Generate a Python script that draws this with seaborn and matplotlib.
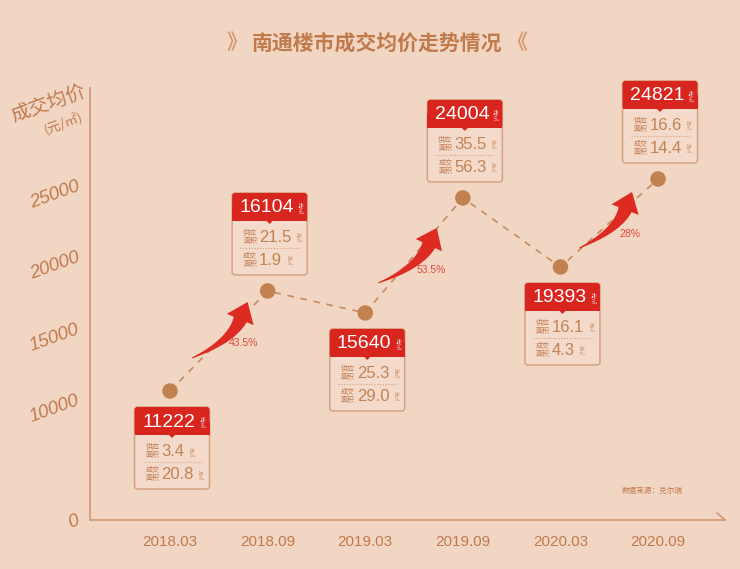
import numpy as np
import pandas as pd
import seaborn as sns
import matplotlib
matplotlib.use("Agg")
import matplotlib.pyplot as plt
from matplotlib.patches import FancyBboxPatch, Polygon, Rectangle

# ---------------- data ----------------
dates = ["2018.03", "2018.09", "2019.03", "2019.09", "2020.03", "2020.09"]
price_labels = [11222, 16104, 15640, 24004, 19393, 24821]
# vertical position of the markers as drawn in the picture
price_plotted = [10630, 17640, 16100, 24160, 19320, 25490]
supply_area = [3.4, 21.5, 25.3, 35.5, 16.1, 16.6]
deal_area = [20.8, 1.9, 29.0, 56.3, 4.3, 14.4]
growth_from = [0, 2, 4]
growth_labels = ["43.5%", "53.5%", "28%"]
box_side = ["below", "above", "below", "above", "below", "above"]
y_ticks = [0, 10000, 15000, 20000, 25000]
y_tick_labels = ["0", "10000", "15000", "20000", "25000"]
title = "南通楼市成交均价走势情况"
y_title = "成交均价"
y_unit = "(元/㎡)"
source = "数据来源：克尔瑞"

# ---------------- style ----------------
BG = "#F2D6C4"
AX = "#D59C7A"
TXT = "#C17A4C"
DASH = "#C98A5E"
PT = "#C2824F"
RED = "#D8261F"
BOXEC = "#D7A282"
BOXFC = "#F4DACA"
VAL = "#C38252"
LBL = "#C07A50"
PCT = "#E04A3C"
ARROW = "#DD2B22"
LIB = ["Liberation Sans", "DejaVu Sans"]

sns.set_theme(style="white")
plt.rcParams["font.family"] = ["Noto Sans CJK SC", "DejaVu Sans"]

W_PX, H_PX = 740, 569
fig = plt.figure(figsize=(7.4, 5.69), dpi=100, facecolor=BG)
ax = fig.add_axes([90 / W_PX, 49 / H_PX, 635 / W_PX, 432 / H_PX])
ax.set_facecolor("none")

K = 0.841


def fwd(y):
    y = np.asarray(y, float)
    return np.where(y >= 10000, y, 10000 - (10000 - y) * K)


def inv(v):
    v = np.asarray(v, float)
    return np.where(v >= 10000, v, 10000 - (10000 - v) / K)


ax.set_yscale("function", functions=(fwd, inv))

df = pd.DataFrame({"idx": np.arange(len(dates)), "date": dates, "price": price_plotted})
sns.lineplot(data=df, x="idx", y="price", ax=ax, color=DASH, lw=1.2,
             linestyle=(0, (4, 4)), zorder=2)
sns.scatterplot(data=df, x="idx", y="price", ax=ax, s=125, color=PT,
                edgecolor="none", zorder=3, legend=False)

ax.set_xlim(-0.82, 5.686)
ax.set_ylim(0, 31864)
ax.set_xlabel("")
ax.set_ylabel("")
ax.set_xticks(df["idx"])
ax.set_xticklabels(dates, family=LIB, fontsize=11, color=TXT)
ax.set_yticks(y_ticks)
ax.set_yticklabels(y_tick_labels, family=LIB, fontsize=13.5, color=TXT,
                   style="italic", rotation=20)
for lab in ax.get_yticklabels():
    lab.set_rotation_mode("anchor")
    lab.set_ha("right")
    lab.set_va("center")
ax.tick_params(axis="both", direction="out", length=5, width=1.2, color=AX)
ax.tick_params(axis="x", pad=6)
ax.tick_params(axis="y", pad=3)
ax.yaxis.get_major_ticks()[0].tick1line.set_visible(False)
for s in ["top", "right"]:
    ax.spines[s].set_visible(False)
for s in ["left", "bottom"]:
    ax.spines[s].set_color(AX)
    ax.spines[s].set_linewidth(1.3)

# ---------------- overlay in pixel coords ----------------
ov = fig.add_axes([0, 0, 1, 1])
ov.set_xlim(0, W_PX)
ov.set_ylim(H_PX, 0)
ov.axis("off")
ov.patch.set_alpha(0)
ov.set_zorder(5)

disp = ax.transData.transform(np.column_stack([df["idx"], df["price"]]))
P = np.column_stack([disp[:, 0], H_PX - disp[:, 1]])

# axis end half arrow
ov.plot([717, 725], [513, 520], color=AX, lw=1.3)

# title
ov.text(377, 43, title, ha="center", va="center", fontsize=15,
        fontweight="bold", color=TXT)
ov.text(237, 43, "》", ha="center", va="center", fontsize=15,
        fontweight="bold", color="#D49A72")
ov.text(517, 43, "《", ha="center", va="center", fontsize=15,
        fontweight="bold", color="#D49A72")

# y title
ov.text(48, 103, y_title, ha="center", va="center", fontsize=14,
        color=TXT, rotation=20, rotation_mode="anchor")
ov.text(64, 124, y_unit, ha="center", va="center", fontsize=9.5,
        color=TXT, rotation=20, rotation_mode="anchor")

# source
ov.text(652, 491, source, ha="center", va="center", fontsize=5.5, color=TXT)


def draw_box(cx, top, price, sup, deal):
    W, H, HH = 75, 82, 28
    x0 = cx - W / 2
    ov.add_patch(FancyBboxPatch((x0, top), W, H,
                                boxstyle="round,pad=0,rounding_size=3",
                                fc=BOXFC, ec=BOXEC, lw=1.1, zorder=2))
    ov.add_patch(FancyBboxPatch((x0, top), W, HH,
                                boxstyle="round,pad=0,rounding_size=3",
                                fc=RED, ec="none", zorder=3))
    ov.add_patch(Rectangle((x0, top + HH / 2), W, HH / 2, fc=RED, ec="none", zorder=3))
    ov.add_patch(Polygon([(cx - 3, top + HH), (cx + 3, top + HH), (cx, top + HH + 3)],
                         closed=True, fc=RED, ec="none", zorder=3))
    ov.text(cx - 3, top + 15, str(price), ha="center", va="center",
            fontsize=14, family=LIB, color="white", zorder=4)
    ov.text(x0 + W - 7.5, top + 15, "元/㎡", ha="center", va="center",
            fontsize=3.6, rotation=-90, color="white", zorder=4)
    for yy, lab, v in [(top + 44, "供应\n面积", sup), (top + 67, "成交\n面积", deal)]:
        ov.text(x0 + 18, yy, lab, ha="center", va="center", fontsize=5,
                linespacing=1.1, color=LBL, zorder=4)
        t = ov.text(x0 + 27, yy + 0.5, f"{v:.1f}", ha="left", va="center",
                    fontsize=12, family=LIB, color=VAL, zorder=4)
        ov.annotate("万㎡", xy=(1, 0.5), xycoords=t, xytext=(2.5, 0),
                    textcoords="offset points", ha="left", va="center",
                    fontsize=3.6, rotation=-90, color=VAL, zorder=4)
    ov.plot([x0 + 8, x0 + W - 8], [top + 55, top + 55], color=BOXEC,
            lw=0.8, linestyle=(0, (1, 1.5)), zorder=4)


GAP = 16
for i in range(len(dates)):
    cx = P[i, 0] + 2
    if box_side[i] == "below":
        top = P[i, 1] + GAP
    else:
        top = P[i, 1] - GAP - 82
    draw_box(cx, top, price_labels[i], supply_area[i], deal_area[i])


def bez(P0, P1, P2, t):
    t = t[:, None]
    return (1 - t) ** 2 * P0 + 2 * (1 - t) * t * P1 + t ** 2 * P2


def bez_d(P0, P1, P2, t):
    t = t[:, None]
    return 2 * (1 - t) * (P1 - P0) + 2 * t * (P2 - P1)


def draw_arrow(S, T, bend=0.2, hl=19, hw=29, w0=1.0, w1=14):
    S = np.asarray(S, float)
    T = np.asarray(T, float)
    d = T - S
    L = np.hypot(*d)
    n = np.array([-d[1], d[0]]) / L
    C = (S + T) / 2 + bend * L * n
    u = (T - C) / np.hypot(*(T - C))
    B = T - hl * u
    t = np.linspace(0, 1, 40)
    pts = bez(S, C, B, t)
    tg = bez_d(S, C, B, t)
    tg = tg / np.hypot(tg[:, 0], tg[:, 1])[:, None]
    nn = np.column_stack([-tg[:, 1], tg[:, 0]])
    w = w0 + (w1 - w0) * t ** 1.1
    left = pts + nn * (w / 2)[:, None]
    right = pts - nn * (w / 2)[:, None]
    nb = np.array([-u[1], u[0]])
    poly = np.vstack([left, [B + nb * hw / 2], [T], [B - nb * hw / 2], right[::-1]])
    ov.add_patch(Polygon(poly, closed=True, fc=ARROW, ec="none", zorder=3))


arrow_start_off = [(22, -33), (13, -30), (19, -19)]
arrow_end_off = [(-20, 11), (-26, 30), (-26, 13)]
label_off = [(25, 2), (17, 15), (21, 11)]
for k, i in enumerate(growth_from):
    S = P[i] + np.array(arrow_start_off[k])
    T = P[i + 1] + np.array(arrow_end_off[k])
    draw_arrow(S, T)
    mid = (P[i] + P[i + 1]) / 2 + np.array(label_off[k])
    ov.text(mid[0], mid[1], growth_labels[k], ha="center", va="center",
            fontsize=7.5, family=LIB, color=PCT, zorder=4)

fig.savefig("out.png", dpi=100, facecolor=BG)
